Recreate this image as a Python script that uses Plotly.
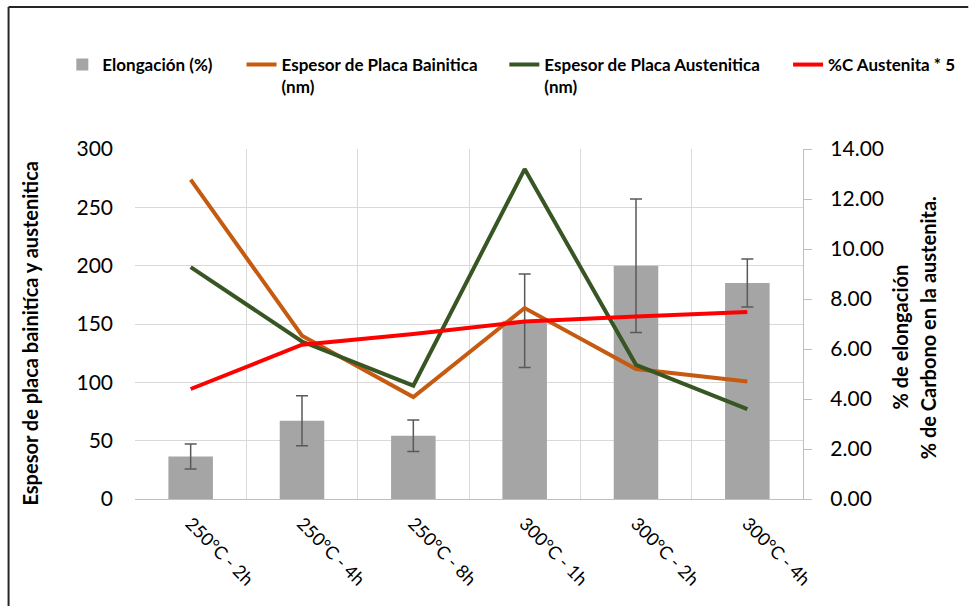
import plotly.graph_objects as go

# Treatment conditions (austempering temperature - time)
categories = ["250°C - 2h", "250°C - 4h", "250°C - 8h", "300°C - 1h", "300°C - 2h", "300°C - 4h"]

# Elongation (%) with its dispersion
elongation = [1.70, 3.13, 2.53, 7.13, 9.33, 8.64]
elongation_err = [0.50, 1.00, 0.63, 1.87, 2.67, 0.96]

# Plate thickness (nm)
bainitic_plate = [273.7, 140.0, 87.4, 163.7, 111.4, 100.8]
austenitic_plate = [198.8, 135.0, 97.1, 282.8, 115.0, 77.1]

# Carbon content of austenite, scaled by 5
carbon_x5 = [4.40, 6.17, 6.60, 7.10, 7.30, 7.48]

nm_ticks = [0, 50, 100, 150, 200, 250, 300]
pct_ticks = [0, 2, 4, 6, 8, 10, 12, 14]

FONT = "Lato"
W, H = 972, 606
L, R, T, B = 135, 166, 149, 107
PW, PH = W - L - R, H - T - B


def px_x(px):
    return (px - L) / PW


def px_y(py):
    return (H - B - py) / PH


fig = go.Figure()

fig.add_trace(go.Bar(
    x=categories, y=elongation, name="Elongación (%)",
    marker=dict(color="#a5a5a5", line=dict(width=0)),
    error_y=dict(type="data", array=elongation_err, color="#595959",
                 thickness=1.5, width=6),
    yaxis="y", legend="legend",
))
fig.add_trace(go.Scatter(
    x=categories, y=bainitic_plate, mode="lines",
    name="Espesor de Placa Bainitica<br>(nm)",
    line=dict(color="#c55a11", width=4),
    yaxis="y2", legend="legend2",
))
fig.add_trace(go.Scatter(
    x=categories, y=austenitic_plate, mode="lines",
    name="Espesor de Placa Austenitica<br>(nm)",
    line=dict(color="#375623", width=4),
    yaxis="y2", legend="legend3",
))
fig.add_trace(go.Scatter(
    x=categories, y=carbon_x5, mode="lines",
    name="%C Austenita * 5",
    line=dict(color="#ff0000", width=4),
    yaxis="y3", legend="legend4",
))

legend_font = dict(family=FONT, size=17, color="#000000", weight="bold")


def legend_at(px):
    return dict(x=px_x(px), y=px_y(47), xanchor="left", yanchor="top",
                bgcolor="rgba(0,0,0,0)", font=legend_font, valign="top",
                itemclick=False)


fig.update_layout(
    width=W, height=H, autosize=False,
    margin=dict(l=L, r=R, t=T, b=B),
    paper_bgcolor="white", plot_bgcolor="white",
    font=dict(family=FONT, color="#000000"),
    bargap=0.6,
    showlegend=True,
    legend=legend_at(62),
    legend2=legend_at(242),
    legend3=legend_at(506),
    legend4=legend_at(791),
    xaxis=dict(
        type="category", range=[-0.5, 5.5], tickson="boundaries",
        showgrid=True, gridcolor="#d9d9d9", gridwidth=1.3,
        showline=True, linecolor="#bfbfbf", linewidth=1.3,
        ticks="", tickangle=45, ticklabelstandoff=6,
        tickfont=dict(family=FONT, size=18, color="#000000"),
    ),
    yaxis=dict(
        side="right", range=[0, 14], tickvals=pct_ticks, tickformat=".2f",
        showgrid=False, zeroline=False,
        showline=True, linecolor="#bfbfbf", linewidth=1.3,
        ticks="outside", ticklen=8, tickcolor="#bfbfbf", tickwidth=1.3,
        ticklabelstandoff=14,
        tickfont=dict(family=FONT, size=21, color="#000000"),
    ),
    yaxis2=dict(
        side="left", overlaying="y", range=[0, 300], tickvals=nm_ticks,
        showgrid=True, gridcolor="#d9d9d9", gridwidth=1.3, zeroline=False,
        showline=False, ticks="", ticklabelstandoff=21,
        tickfont=dict(family=FONT, size=21, color="#000000"),
    ),
    yaxis3=dict(overlaying="y", range=[0, 14], visible=False),
)

title_font = dict(family=FONT, size=20, color="#000000", weight="bold")
fig.add_annotation(text="Espesor de placa bainitíca y austenitica",
                   xref="paper", yref="paper", x=px_x(15), y=px_y(333),
                   textangle=-90, showarrow=False, font=title_font)
fig.add_annotation(text="% de elongación",
                   xref="paper", yref="paper", x=px_x(918), y=px_y(337),
                   textangle=-90, showarrow=False, font=title_font)
fig.add_annotation(text="% de Carbono en la austenita.",
                   xref="paper", yref="paper", x=px_x(946), y=px_y(328),
                   textangle=-90, showarrow=False, font=title_font)

# Chart frame (top and left edges)
frame = dict(color="#262626", width=2)
fig.add_shape(type="line", xref="paper", yref="paper",
              x0=px_x(8), y0=px_y(7), x1=px_x(W), y1=px_y(7), line=frame)
fig.add_shape(type="line", xref="paper", yref="paper",
              x0=px_x(8), y0=px_y(7), x1=px_x(8), y1=px_y(H), line=frame)

fig.write_html("out.html")
